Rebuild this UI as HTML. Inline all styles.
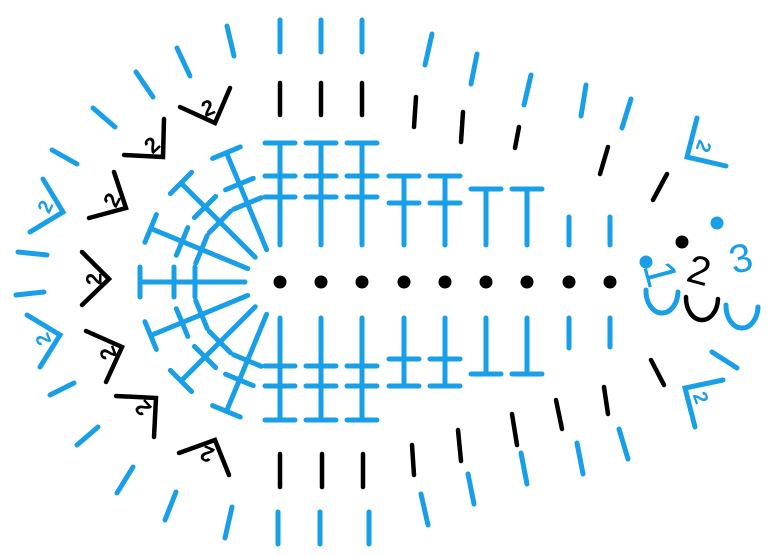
<!DOCTYPE html>
<html><head><meta charset="utf-8"><style>
html,body{margin:0;padding:0;background:#fff;}
svg{display:block;}
text{font-family:"Liberation Sans",sans-serif;font-weight:bold;}
</style></head><body>
<svg width="782" height="556" viewBox="0 0 782 556" xmlns="http://www.w3.org/2000/svg">
<defs>
<g id="ray" stroke="#189fe8" stroke-width="5" stroke-linecap="round" fill="none">
<line x1="245" y1="282" x2="140" y2="282"/>
<line x1="140" y1="267" x2="140" y2="297"/>
<line x1="174" y1="267" x2="174" y2="297"/>
<line x1="195" y1="267" x2="195" y2="297"/>
</g>
</defs>
<use href="#ray" transform="rotate(67.5 280 282)"/>
<use href="#ray" transform="rotate(45 280 282)"/>
<use href="#ray" transform="rotate(22.5 280 282)"/>
<use href="#ray"/>
<use href="#ray" transform="rotate(-22.5 280 282)"/>
<use href="#ray" transform="rotate(-45 280 282)"/>
<use href="#ray" transform="rotate(-67.5 280 282)"/>

<g stroke="#189fe8" stroke-width="5" stroke-linecap="round" fill="none">
<line x1="280" y1="143" x2="280" y2="245"/><line x1="265" y1="143" x2="295" y2="143"/><line x1="265" y1="176" x2="295" y2="176"/><line x1="265" y1="197" x2="295" y2="197"/>
<line x1="321" y1="143" x2="321" y2="245"/><line x1="306" y1="143" x2="336" y2="143"/><line x1="306" y1="176" x2="336" y2="176"/><line x1="306" y1="197" x2="336" y2="197"/>
<line x1="362" y1="143" x2="362" y2="245"/><line x1="347" y1="143" x2="377" y2="143"/><line x1="347" y1="176" x2="377" y2="176"/><line x1="347" y1="197" x2="377" y2="197"/>
<line x1="404" y1="176" x2="404" y2="245"/><line x1="389" y1="176" x2="419" y2="176"/><line x1="389" y1="203" x2="419" y2="203"/>
<line x1="445" y1="176" x2="445" y2="245"/><line x1="430" y1="176" x2="460" y2="176"/><line x1="430" y1="203" x2="460" y2="203"/>
<line x1="486" y1="189" x2="486" y2="245"/><line x1="471" y1="189" x2="501" y2="189"/>
<line x1="527" y1="189" x2="527" y2="245"/><line x1="512" y1="189" x2="542" y2="189"/>
<line x1="569" y1="217" x2="569" y2="245"/>
<line x1="610" y1="217" x2="610" y2="245"/>
<line x1="280" y1="318" x2="280" y2="420"/><line x1="265" y1="420" x2="295" y2="420"/><line x1="265" y1="386" x2="295" y2="386"/><line x1="265" y1="366" x2="295" y2="366"/>
<line x1="321" y1="318" x2="321" y2="420"/><line x1="306" y1="420" x2="336" y2="420"/><line x1="306" y1="386" x2="336" y2="386"/><line x1="306" y1="366" x2="336" y2="366"/>
<line x1="362" y1="318" x2="362" y2="420"/><line x1="347" y1="420" x2="377" y2="420"/><line x1="347" y1="386" x2="377" y2="386"/><line x1="347" y1="366" x2="377" y2="366"/>
<line x1="404" y1="318" x2="404" y2="386"/><line x1="389" y1="386" x2="419" y2="386"/><line x1="389" y1="359" x2="419" y2="359"/>
<line x1="445" y1="318" x2="445" y2="386"/><line x1="430" y1="386" x2="460" y2="386"/><line x1="430" y1="359" x2="460" y2="359"/>
<line x1="486" y1="318" x2="486" y2="374"/><line x1="471" y1="374" x2="501" y2="374"/>
<line x1="527" y1="318" x2="527" y2="374"/><line x1="512" y1="374" x2="542" y2="374"/>
<line x1="569" y1="318" x2="569" y2="348"/>
<line x1="610" y1="318" x2="610" y2="347"/>
<line x1="280" y1="20" x2="280" y2="52"/><line x1="321" y1="20" x2="321" y2="52"/><line x1="362" y1="20" x2="362" y2="52"/>
<line x1="227" y1="26" x2="234" y2="56"/><line x1="177" y1="48" x2="190" y2="76"/><line x1="136" y1="72" x2="153" y2="97"/><line x1="93" y1="108" x2="115" y2="127"/>
<line x1="52" y1="150" x2="77" y2="164"/>
<line x1="18" y1="252" x2="47" y2="255"/><line x1="16" y1="295" x2="44" y2="292"/>
<line x1="50" y1="395" x2="74" y2="383"/><line x1="77" y1="445" x2="98" y2="427"/>
<line x1="432" y1="34" x2="425" y2="65"/><line x1="477" y1="54" x2="471" y2="84"/><line x1="531" y1="75" x2="524" y2="105"/><line x1="586" y1="85" x2="581" y2="116"/><line x1="631" y1="99" x2="622" y2="128"/>
<line x1="278" y1="512" x2="278" y2="544"/><line x1="320" y1="512" x2="320" y2="544"/><line x1="369" y1="512" x2="369" y2="544"/>
<line x1="232" y1="507" x2="225" y2="538"/><line x1="176" y1="492" x2="165" y2="520"/><line x1="133" y1="467" x2="117" y2="493"/>
<line x1="421" y1="494" x2="428" y2="525"/><line x1="468" y1="474" x2="474" y2="504"/><line x1="521" y1="453" x2="527" y2="484"/><line x1="577" y1="443" x2="583" y2="474"/><line x1="619" y1="429" x2="628" y2="459"/>
<line x1="712" y1="352" x2="737" y2="368"/>
<polyline points="43,179 63,212 30,232"/>
<polyline points="27,315 60,335 40,367"/>
<polyline points="697,118 687,157 726,166"/>
<polyline points="723,380 685,388 695,427"/>
<path d="M646,290 A16,22 0 0 0 678,292"/>
<path d="M726,305 A16,22 0 0 0 758,307"/>
</g>

<g stroke="#000" stroke-width="4.5" stroke-linecap="round" fill="none">
<line x1="280" y1="83" x2="280" y2="115"/><line x1="321" y1="83" x2="321" y2="115"/><line x1="362" y1="83" x2="362" y2="115"/>
<line x1="416" y1="97" x2="414" y2="127"/><line x1="463" y1="112" x2="461" y2="142"/><line x1="519" y1="127" x2="515" y2="148"/>
<line x1="608" y1="147" x2="600" y2="174"/><line x1="667" y1="174" x2="653" y2="200"/>
<line x1="280" y1="454" x2="280" y2="487"/><line x1="322" y1="454" x2="322" y2="487"/><line x1="363" y1="454" x2="363" y2="487"/>
<line x1="412" y1="445" x2="414" y2="475"/><line x1="458" y1="430" x2="461" y2="461"/><line x1="512" y1="414" x2="517" y2="445"/><line x1="556" y1="400" x2="562" y2="429"/><line x1="604" y1="387" x2="608" y2="414"/>
<line x1="651" y1="360" x2="664" y2="385"/>
<polyline points="180,107 215,123 230,88"/>
<polyline points="124,155 163,157 164,119"/>
<polyline points="89,218 126,208 114,172"/>
<polyline points="82,252 109,279 82,305"/>
<polyline points="86,331 122,347 106,382"/>
<polyline points="116,396 156,398 154,437"/>
<polyline points="179,453 215,440 229,475"/>
<path d="M686,297 A16,22 0 0 0 718,299"/>
</g>

<g fill="#000">
<circle cx="280" cy="282" r="6.5"/><circle cx="321" cy="282" r="6.5"/><circle cx="362" cy="282" r="6.5"/>
<circle cx="404" cy="282" r="6.5"/><circle cx="445" cy="282" r="6.5"/><circle cx="486" cy="282" r="6.5"/>
<circle cx="527" cy="282" r="6.5"/><circle cx="569" cy="282" r="6.5"/><circle cx="610" cy="282" r="6.5"/>
<circle cx="682" cy="242" r="6.5"/>
</g>
<g fill="#189fe8">
<circle cx="717" cy="223" r="6.5"/><circle cx="646" cy="262" r="6.5"/>
</g>

<g text-anchor="middle" dominant-baseline="central" fill="#000" style="font-size:22px">
<text x="208" y="108" transform="rotate(-22 208 108)">2</text>
<text x="152" y="145" transform="rotate(-43 152 145)">2</text>
<text x="112" y="200" transform="rotate(-64 112 200)">2</text>
<text x="94" y="279" transform="rotate(-90 94 279)">2</text>
<text x="108" y="353" transform="rotate(-111 108 353)">2</text>
<text x="143" y="408" transform="rotate(-133 143 408)">2</text>
<text x="207" y="454" transform="rotate(-157 207 454)">2</text>
</g>
<g text-anchor="middle" dominant-baseline="central" fill="#189fe8" style="font-size:20px">
<text x="46" y="207" transform="rotate(-66 46 207)">2</text>
<text x="44" y="339" transform="rotate(-112 44 339)">2</text>
<text x="703" y="146" transform="rotate(110 703 146)">2</text>
<text x="700" y="398" transform="rotate(70 700 398)">2</text>
</g>
<text x="660" y="274" fill="#189fe8" text-anchor="middle" dominant-baseline="central" transform="rotate(75 660 274)" style="font-size:44px;font-weight:normal">1</text>
<text x="699" y="271" fill="#000" text-anchor="middle" dominant-baseline="central" transform="rotate(15 699 271)" style="font-size:40px;font-weight:normal">2</text>
<text x="741" y="259" fill="#189fe8" text-anchor="middle" dominant-baseline="central" transform="rotate(-15 741 259)" style="font-size:40px;font-weight:normal">3</text>
</svg>
</body></html>
